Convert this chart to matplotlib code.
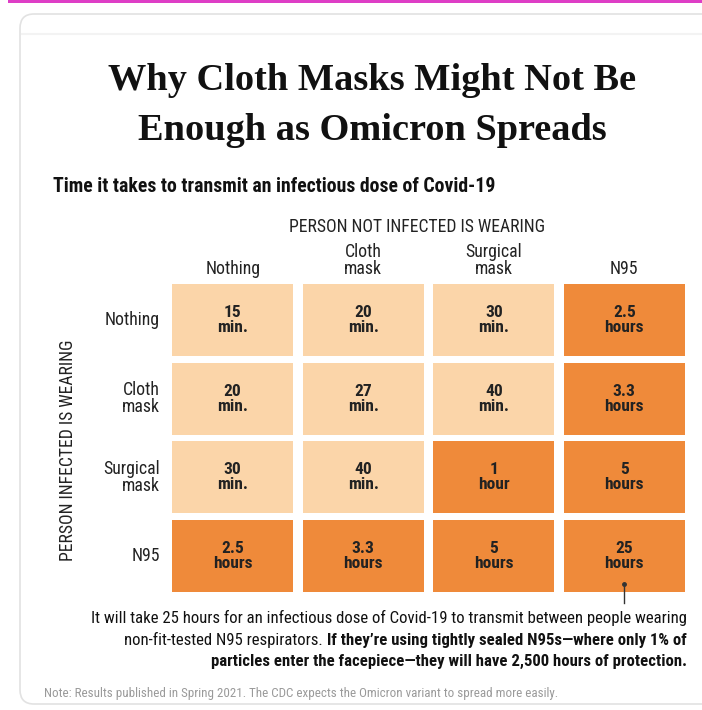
import matplotlib.pyplot as plt
from matplotlib import font_manager
from matplotlib.patches import Rectangle, FancyBboxPatch
from matplotlib.lines import Line2D

# transmission time table (rows: infected person, cols: uninfected person)
wearing = ['Nothing', 'Cloth\nmask', 'Surgical\nmask', 'N95']
amounts = [
    [15, 20, 30, 2.5],
    [20, 27, 40, 3.3],
    [30, 40, 1, 5],
    [2.5, 3.3, 5, 25],
]
units = [
    ['min.', 'min.', 'min.', 'hours'],
    ['min.', 'min.', 'min.', 'hours'],
    ['min.', 'min.', 'hour', 'hours'],
    ['hours', 'hours', 'hours', 'hours'],
]

W, H = 702, 710
LIGHT = '#FBD5A9'
DARK = '#EF8A3A'
TXT = '#222222'

# narrowest sans that is actually installed
installed = {f.name for f in font_manager.fontManager.ttflist}
for name in ['Liberation Sans Narrow', 'Roboto Condensed', 'Open Sans Condensed',
             'DejaVu Sans Condensed', 'Liberation Sans']:
    if name in installed:
        SANS = name
        break
else:
    SANS = 'DejaVu Sans'
SERIF = 'DejaVu Serif Condensed' if 'DejaVu Serif Condensed' in installed else 'Liberation Serif'

plt.rcParams['font.family'] = [SANS, 'DejaVu Sans']

fig = plt.figure(figsize=(W / 100, H / 100), dpi=100)
renderer = fig.canvas.get_renderer()


def px(x, y):
    return x / W, 1 - y / H


def fit(t, width):
    # scale the font so the text spans the given pixel width
    w = t.get_window_extent(renderer).width
    t.set_fontsize(t.get_fontsize() * width / w)
    return t


# screenshot frame: magenta strip and rounded card
fig.patches.append(Rectangle(px(8, 3), 1, 3 / H, transform=fig.transFigure,
                             color='#DE3EC6', lw=0))
fig.patches.append(FancyBboxPatch(px(20, 704), 700 / W, 690 / H,
                                  boxstyle='round,pad=0,rounding_size=0.02',
                                  transform=fig.transFigure, fc='white',
                                  ec='#E2E2E2', lw=1.2, zorder=-5))
fig.lines.append(Line2D([22 / W, 1], [1 - 34 / H] * 2, transform=fig.transFigure,
                        color='#F3F3F3', lw=1.5))

t1 = fig.text(*px(372, 80), 'Why Cloth Masks Might Not Be', ha='center', va='center',
              family=[SERIF], weight='bold', fontsize=29, color='#111111')
fit(t1, 528)
fig.text(*px(372, 130), 'Enough as Omicron Spreads', ha='center', va='center',
         family=[SERIF], weight='bold', fontsize=t1.get_fontsize(), color='#111111')
sub = fig.text(*px(53, 187), 'Time it takes to transmit an infectious dose of Covid-19',
               ha='left', va='center', weight='bold', fontsize=13, color='#111111')
fit(sub, 442)
top = fig.text(*px(417, 227), 'PERSON NOT INFECTED IS WEARING', ha='center', va='center',
               fontsize=12, color=TXT)
fit(top, 255)
side = fig.text(*px(68, 450), 'PERSON INFECTED IS WEARING', ha='center', va='center',
                rotation=90, fontsize=12, color=TXT)
side.set_fontsize(top.get_fontsize())

# grid of cells
x0, x1, y0, y1 = 167.5, 689.5, 280.5, 595.5
ax = fig.add_axes([x0 / W, 1 - y1 / H, (x1 - x0) / W, (y1 - y0) / H])
ax.set_xlim(0, 4)
ax.set_ylim(4, 0)
ax.axis('off')

cw, ch = 0.927, 0.914
for r in range(4):
    for c in range(4):
        minutes = amounts[r][c] * (60 if units[r][c].startswith('hour') else 1)
        color = DARK if minutes >= 60 else LIGHT
        ax.add_patch(Rectangle((c + (1 - cw) / 2, r + (1 - ch) / 2), cw, ch,
                               fc=color, lw=0))
        ax.text(c + 0.5, r + 0.5, f'{amounts[r][c]:g}\n{units[r][c]}',
                ha='center', va='center', fontsize=12.5, weight='bold',
                linespacing=1.0, color=TXT)

for c, name in enumerate(wearing):
    ax.text(c + 0.5, -0.03, name, ha='center', va='bottom', fontsize=12.8,
            linespacing=0.95, color=TXT)
for r, name in enumerate(wearing):
    ax.text(-0.06, r + 0.5, name, ha='right', va='center', fontsize=12.8,
            linespacing=0.95, color=TXT)

# pointer from the N95/N95 cell to the note below
ax.plot([3.5, 3.5], [3.86, 4.1], color='#333333', lw=1, clip_on=False)
ax.plot([3.5], [3.86], 'o', ms=2.5, color='#333333', clip_on=False)

n1 = fig.text(*px(687, 618),
              'It will take 25 hours for an infectious dose of Covid-19 to transmit between people wearing',
              ha='right', va='center', fontsize=11.5, color='#111111')
fit(n1, 597)
fs = n1.get_fontsize()
bold2 = fig.text(*px(687, 640), 'If they\u2019re using tightly sealed N95s\u2014where only 1% of',
                 ha='right', va='center', fontsize=fs, weight='bold', color='#111111')
left = bold2.get_window_extent(renderer).x0
fig.text((left - 4) / W, 1 - 640 / H, 'non-fit-tested N95 respirators.',
         ha='right', va='center', fontsize=fs, color='#111111')
fig.text(*px(687, 661),
         'particles enter the facepiece\u2014they will have 2,500 hours of protection.',
         ha='right', va='center', fontsize=fs, weight='bold', color='#111111')

note = fig.text(*px(44, 693),
                'Note: Results published in Spring 2021. The CDC expects the Omicron variant to spread more easily.',
                ha='left', va='center', fontsize=8.5, color='#9A9A9A')
fit(note, 513)

fig.savefig('out.png', dpi=100, facecolor='white')
